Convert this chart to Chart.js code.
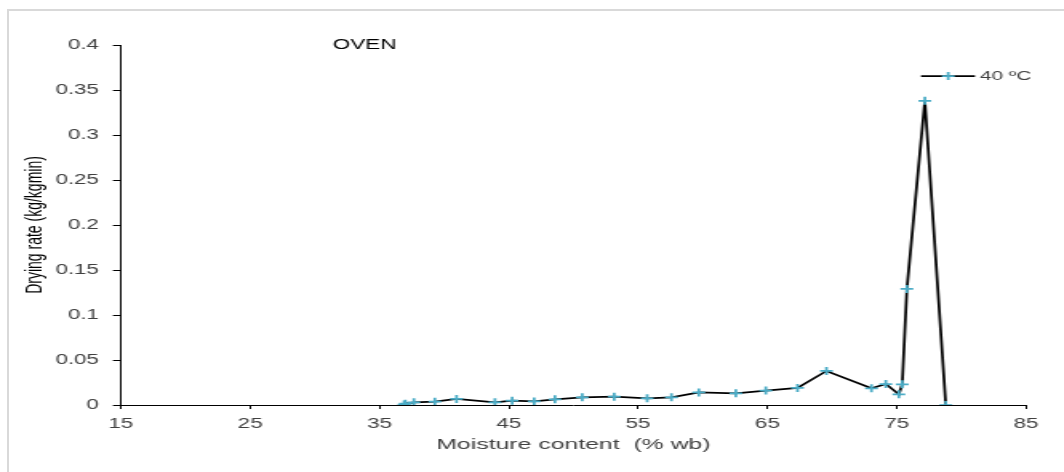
<!DOCTYPE html>
<html>
<head>
<meta charset="utf-8">
<script src="https://cdn.jsdelivr.net/npm/chart.js@4"></script>
<style>
  html, body { margin: 0; padding: 0; background: #fff; overflow: hidden; }
  #wrap { position: relative; width: 1064px; height: 472px; overflow: hidden; }
  #frame {
    position: absolute; left: 7px; top: 9px; right: -4px; bottom: -4px;
    border-top: 2px solid #d9d9d9; border-left: 2px solid #d9d9d9;
  }
  /* the figure is drawn narrow and widened, like the exported image */
  #stretch {
    position: absolute; left: 0; top: 0; width: 665px; height: 472px;
    transform: scaleX(1.6); transform-origin: 0 0;
  }
</style>
</head>
<body>
<div id="wrap">
  <div id="frame"></div>
  <div id="stretch"><canvas id="chart" width="665" height="472" style="width:665px;height:472px"></canvas></div>
</div>
<script>
// oven drying at 40 °C: moisture content (% wb) vs drying rate (kg/kg min)
const moisture = [36.9, 37.0, 37.66, 39.28, 40.96, 43.93, 45.26, 46.96, 48.57, 50.68,
  53.15, 55.7, 57.58, 59.7, 62.56, 64.88, 67.33, 69.57, 73.05, 74.16, 75.17, 75.43,
  75.79, 77.18, 78.8];
const dryingRate = [0.0005, 0.0015, 0.003, 0.0037, 0.0067, 0.003, 0.0048, 0.004, 0.0063, 0.0085,
  0.0093, 0.0074, 0.0085, 0.014, 0.013, 0.016, 0.019, 0.0378, 0.0185, 0.0233, 0.0119, 0.023,
  0.129, 0.338, 0.0];
const seriesLabel = "40 ºC";
const chartTitle = "OVEN";

const points = moisture.map((m, i) => ({ x: m, y: dryingRate[i] }));

const lineColor = "#000000";
const markerColor = "#4bacc6";
const textColor = "#404040";
const fontFamily = "'Liberation Sans', Arial, sans-serif";

// title and legend sit inside the plot area, so draw them by hand
const insideLabels = {
  id: "insideLabels",
  afterDraw(chart) {
    const { ctx, chartArea } = chart;
    ctx.save();
    ctx.fillStyle = "#000";
    ctx.font = "14px " + fontFamily;
    ctx.textBaseline = "middle";
    ctx.fillText(chartTitle, chartArea.left + 132.5, chartArea.top);

    const ly = chartArea.top + 31;
    const lx = chartArea.right - 65.6;
    ctx.strokeStyle = lineColor;
    ctx.lineWidth = 1.75;
    ctx.beginPath();
    ctx.moveTo(lx, ly);
    ctx.lineTo(lx + 33.75, ly);
    ctx.stroke();
    const mx = lx + 17;
    ctx.strokeStyle = markerColor;
    ctx.beginPath();
    ctx.moveTo(mx - 4, ly);
    ctx.lineTo(mx + 4, ly);
    ctx.moveTo(mx, ly - 4);
    ctx.lineTo(mx, ly + 4);
    ctx.stroke();
    ctx.fillStyle = textColor;
    ctx.font = "13px " + fontFamily;
    ctx.fillText(seriesLabel, chartArea.right - 28.75, ly);
    ctx.restore();
  }
};

new Chart(document.getElementById("chart"), {
  type: "scatter",
  data: {
    datasets: [{
      label: seriesLabel,
      data: points,
      showLine: true,
      borderColor: lineColor,
      borderWidth: 1.75,
      pointStyle: "cross",
      pointRadius: 4,
      pointBorderWidth: 1.75,
      pointBorderColor: markerColor,
      pointBackgroundColor: markerColor,
      tension: 0
    }]
  },
  options: {
    responsive: false,
    animation: false,
    devicePixelRatio: 1,
    layout: { padding: { top: 45, right: 23.75, left: 0, bottom: 0 } },
    plugins: {
      legend: { display: false },
      title: { display: false },
      tooltip: { enabled: false }
    },
    scales: {
      x: {
        type: "linear",
        min: 15,
        max: 85,
        ticks: { stepSize: 10, color: textColor, font: { family: fontFamily, size: 14 }, padding: 6.5 },
        grid: { drawOnChartArea: false, drawTicks: true, tickLength: 4, color: "#000" },
        border: { color: "#000", width: 1 },
        title: {
          display: true,
          text: "Moisture content  (% wb)",
          color: textColor,
          font: { family: fontFamily, size: 15.5 },
          padding: { top: 0, bottom: 18 }
        },
        afterFit(scale) { scale.height = 67; }
      },
      y: {
        min: 0,
        max: 0.4,
        ticks: {
          stepSize: 0.05,
          color: textColor,
          font: { family: fontFamily, size: 14 },
          padding: 8.7,
          callback: (v) => String(+v.toFixed(2))
        },
        grid: { drawOnChartArea: false, drawTicks: true, tickLength: 5, color: "#000" },
        border: { color: "#000", width: 1 },
        title: {
          display: true,
          text: "Drying rate (kg/kgmin)",
          color: "#000",
          font: { family: fontFamily, size: 14 },
          padding: { top: 13.5, bottom: 0 }
        },
        afterFit(scale) { scale.width = 75.6; }
      }
    }
  },
  plugins: [insideLabels]
});
</script>
</body>
</html>
